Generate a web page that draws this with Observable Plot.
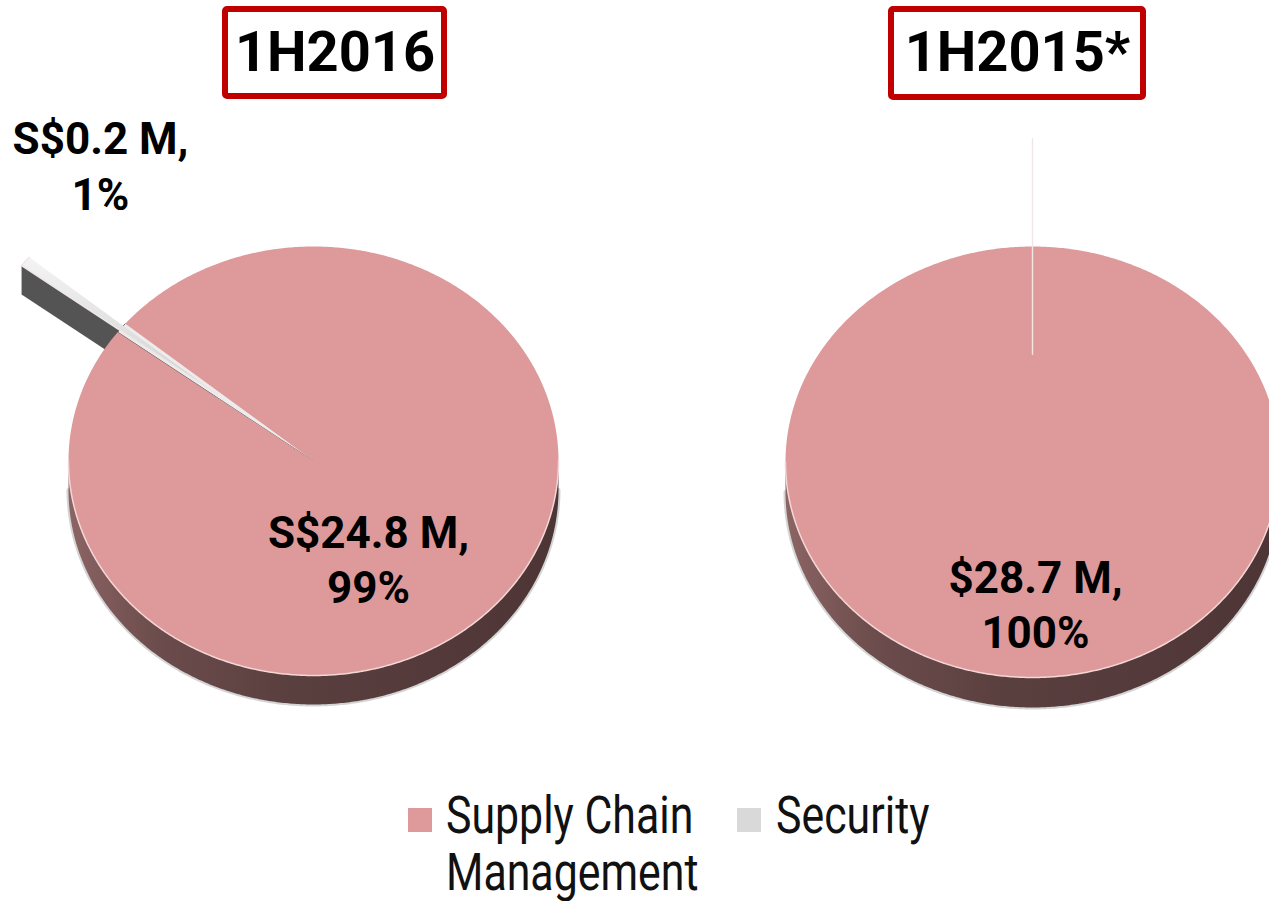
<!DOCTYPE html>
<html>
<head>
<meta charset="utf-8">
<script src="https://cdn.jsdelivr.net/npm/d3@7"></script>
<script src="https://cdn.jsdelivr.net/npm/@observablehq/plot@0.6"></script>
<style>
  body { margin: 0; background: #fff; }
  #chart { width: 1269px; height: 780px; }
  #legend { position: relative; width: 1269px; height: 121px; font-family: "Roboto", sans-serif; font-size: 51px; line-height: 57px; color: #111; }
  #legend .sw { position: absolute; width: 24px; height: 24px; }
  #legend .lb { position: absolute; white-space: nowrap; transform: scaleX(0.84); transform-origin: 0 0; }
</style>
</head>
<body>
<div id="chart"></div>
<div id="legend"></div>
<script>
// ---------------- data ----------------
const periods = ["1H2016", "1H2015*"];
const segments = ["Supply Chain Management", "Security"];
const supplyChain = [24.8, 28.7];      // S$ M
const security = [0.2, 0.0];          // S$ M
const currencyPrefix = ["S$", "$"];
const segmentColors = ["#de9a9a", "#d9d9d9"];
const legendLabels = ["Supply Chain\nManagement", "Security"];

// ---------------- layout ----------------
const W = 1269, H = 780;
const pies = [
  {cx: 313, cy: 460.5, rx: 245, ry: 214.5, depth: 29, start: -50.2, explode: 0.5,
   box: [225, 444, 9, 96], label: [55, 48], secLabel: [-213, -347]},
  {cx: 1032, cy: 461.5, rx: 247, ry: 215.5, depth: 30, start: 0, explode: 0.5,
   box: [891, 1143, 9, 97], label: [3, 92], secLabel: [0, 0]}
];

const toRad = d => d * Math.PI / 180;
function pt(p, a, r = 1, off = [0, 0], drop = 0) {
  return {x: p.cx + off[0] + p.rx * r * Math.sin(a), y: p.cy + off[1] - p.ry * r * Math.cos(a) + drop};
}
function arcPts(p, a0, a1, r = 1, off = [0, 0], drop = 0) {
  const n = Math.max(1, Math.ceil(Math.abs(a1 - a0) / toRad(0.5)));
  return d3.range(n + 1).map(i => pt(p, a0 + (a1 - a0) * i / n, r, off, drop));
}

const sideRows = [], shadowRows = [], rimRows = [], gapRows = [], topRows = [], secSideRows = [], secTopRows = [];
const titleRows = [], mainLabelRows = [], secLabelRows = [];

pies.forEach((p, i) => {
  const data = segments.map((s, j) => ({segment: s, value: j === 0 ? supplyChain[i] : security[i]}));
  const total = d3.sum(data, d => d.value);
  const arcs = d3.pie().sort(null).value(d => d.value)
    .startAngle(toRad(p.start)).endAngle(toRad(p.start) + 2 * Math.PI)(data);
  const sup = arcs[0], sec = arcs[1];
  const push = (arr, id, pts) => pts.forEach(q => arr.push({id, x: q.x, y: q.y}));
  const center = {x: p.cx, y: p.cy};

  // front side band of the 3D disc
  const topEdge = arcPts(p, Math.PI / 2, 3 * Math.PI / 2);
  const botEdge = arcPts(p, Math.PI / 2, 3 * Math.PI / 2, 1, [0, 0], p.depth);
  push(sideRows, "side" + i, [...topEdge, ...botEdge.slice().reverse()]);
  push(shadowRows, "sh" + i, botEdge);
  push(rimRows, "rim" + i, topEdge);

  // gap left by the exploded slice
  if (sec.value > 0) push(gapRows, "gap" + i, [center, ...arcPts(p, sec.startAngle, sec.endAngle)]);
  // top face of the main slice
  push(topRows, "top" + i, [center, ...arcPts(p, sup.startAngle, sup.endAngle)]);

  // exploded security slice
  const m = (sec.startAngle + sec.endAngle) / 2;
  const off = [p.explode * p.rx * Math.sin(m), -p.explode * p.ry * Math.cos(m)];
  const apex = {x: p.cx + off[0], y: p.cy + off[1]};
  const outer = arcPts(p, sec.startAngle, sec.endAngle, 1, off);
  if (Math.sin(sec.startAngle) < -1e-9) {
    const o = outer[0];
    push(secSideRows, "ss0_" + i, [apex, o, {x: o.x, y: o.y + p.depth}, {x: apex.x, y: apex.y + p.depth}]);
  }
  if (Math.sin(sec.endAngle) > 1e-9) {
    const o = outer[outer.length - 1];
    push(secSideRows, "ss1_" + i, [apex, o, {x: o.x, y: o.y + p.depth}, {x: apex.x, y: apex.y + p.depth}]);
  }
  push(secTopRows, "st" + i, [apex, ...outer]);

  // titles
  titleRows.push({x1: p.box[0], x2: p.box[1], y1: p.box[2], y2: p.box[3], text: periods[i]});
  // labels
  const pct = v => Math.round(100 * v / total) + "%";
  mainLabelRows.push({x: p.cx + p.label[0], y: p.cy + p.label[1],
    text: `${currencyPrefix[i]}${supplyChain[i].toFixed(1)} M,\n${pct(supplyChain[i])}`});
  if (security[i] > 0) secLabelRows.push({x: p.cx + p.secLabel[0], y: p.cy + p.secLabel[1],
    text: `${currencyPrefix[i]}${security[i].toFixed(1)} M,\n${pct(security[i])}`});
});

const poly = (rows, opts) => Plot.line(rows, {x: "x", y: "y", z: "id", curve: "linear", ...opts});

const svg = Plot.plot({
  width: W, height: H,
  margin: 0,
  x: {domain: [0, W], range: [0, W], axis: null},
  y: {domain: [0, H], range: [0, H], axis: null},
  style: {background: "#fff", fontFamily: "Roboto, sans-serif"},
  marks: [
    poly(shadowRows, {stroke: "#a0a0a0", strokeWidth: 4, strokeOpacity: 0.45}),
    poly(sideRows, {fill: "url(#sideGrad)", stroke: "none"}),
    poly(secSideRows, {fill: "#545454", stroke: "none"}),
    poly(gapRows, {fill: "#ececec", stroke: "#4a4a4a", strokeWidth: 0.8}),
    poly(topRows, {fill: segmentColors[0], stroke: "none"}),
    poly(rimRows, {stroke: "#f4d6d6", strokeWidth: 1.5}),
    poly(secTopRows, {fill: "url(#secGrad)", stroke: "#f1e6e6", strokeWidth: 1.4}),
    Plot.rect(titleRows, {x1: "x1", x2: "x2", y1: "y1", y2: "y2", fill: "#fff", stroke: "#c00000", strokeWidth: 6, rx: 2}),
    Plot.text(titleRows, {x: d => (d.x1 + d.x2) / 2, y: d => (d.y1 + d.y2) / 2, text: "text",
      fontSize: 56, fontWeight: "bold", fontFamily: "Roboto", fill: "#000"}),
    Plot.text(mainLabelRows, {x: "x", y: "y", text: "text", lineAnchor: "top", lineHeight: 1.25,
      fontSize: 44, fontWeight: "bold", fontFamily: "Roboto", fill: "#000"}),
    Plot.text(secLabelRows, {x: "x", y: "y", text: "text", lineAnchor: "top", lineHeight: 1.27,
      fontSize: 44, fontWeight: "bold", fontFamily: "Roboto", fill: "#000"})
  ]
});

const defs = d3.select(svg).insert("defs", ":first-child");
const g1 = defs.append("linearGradient").attr("id", "sideGrad").attr("x1", 0).attr("x2", 1).attr("y1", 0).attr("y2", 0);
[["0%", "#8c6464"], ["18%", "#6c4c4c"], ["45%", "#5a3f3f"], ["100%", "#4e3535"]]
  .forEach(([o, c]) => g1.append("stop").attr("offset", o).attr("stop-color", c));
const g2 = defs.append("linearGradient").attr("id", "secGrad").attr("x1", 0).attr("x2", 0).attr("y1", 0).attr("y2", 1);
[["0%", "#f4f4f4"], ["100%", "#cfcfcf"]]
  .forEach(([o, c]) => g2.append("stop").attr("offset", o).attr("stop-color", c));

document.getElementById("chart").appendChild(svg);

// legend
const legendLayout = [{sw: [408, 28], lb: [446, 7]}, {sw: [737, 28], lb: [776, 7]}];
const legend = d3.select("#legend");
segments.forEach((s, j) => {
  const L = legendLayout[j];
  legend.append("div").attr("class", "sw")
    .style("left", L.sw[0] + "px").style("top", L.sw[1] + "px").style("background", segmentColors[j]);
  legend.append("div").attr("class", "lb")
    .style("left", L.lb[0] + "px").style("top", L.lb[1] + "px")
    .html(legendLabels[j].split("\n").join("<br>"));
});
</script>
</body>
</html>
